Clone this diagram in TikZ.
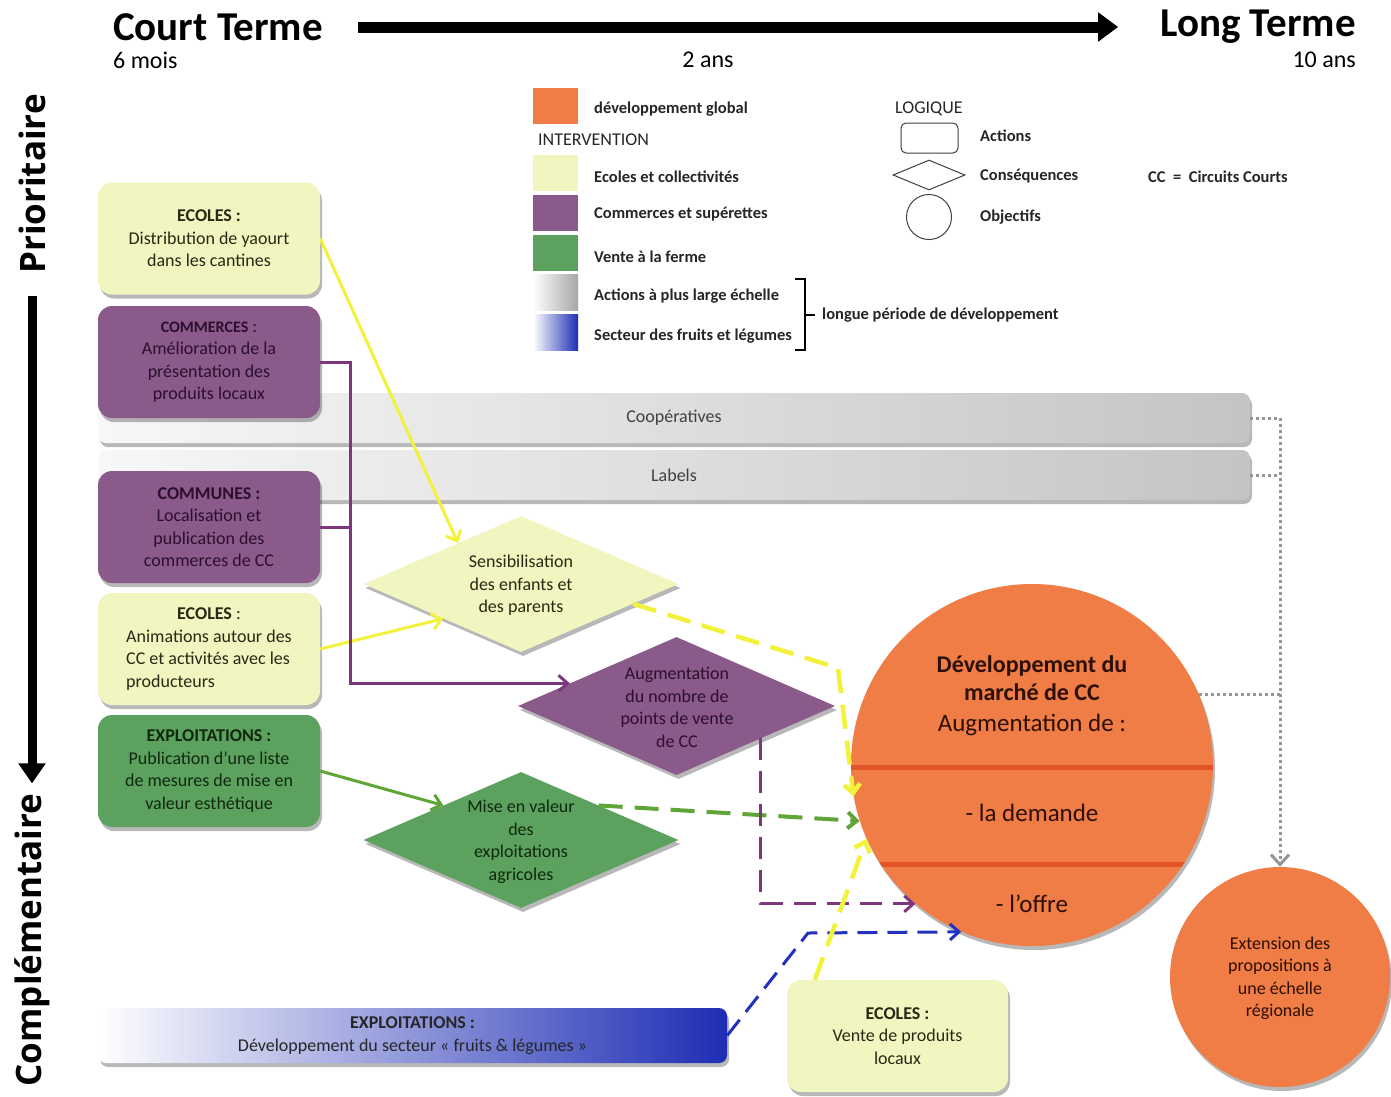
\documentclass[tikz,border=0pt]{standalone}
\usepackage{fontspec}
\setmainfont{Carlito}
\newfontfamily\sidefont{Open Sans}
\usetikzlibrary{arrows.meta,shapes.geometric,shadows,calc}
\definecolor{cyel}{RGB}{241,246,192}
\definecolor{cpur}{RGB}{138,90,138}
\definecolor{cgrn}{RGB}{92,162,94}
\definecolor{corg}{RGB}{239,125,69}
\definecolor{corgd}{RGB}{226,84,40}
\definecolor{cblue}{RGB}{30,45,180}
\definecolor{cgray}{RGB}{196,196,196}
\definecolor{ayel}{RGB}{242,242,60}
\definecolor{apur}{RGB}{125,55,125}
\definecolor{agrn}{RGB}{95,165,55}
\definecolor{ablue}{RGB}{35,50,190}
\definecolor{adot}{RGB}{150,150,150}
\definecolor{tyel}{RGB}{40,40,20}
\definecolor{tpur}{RGB}{45,15,45}
\definecolor{tgrn}{RGB}{15,40,15}
\definecolor{torg}{RGB}{45,15,5}
\tikzset{
  shad/.style={drop shadow={shadow xshift=2pt,shadow yshift=-4pt,opacity=0.28,fill=black}},
  actbox/.style={rounded corners=14pt, minimum width=222pt, minimum height=112pt, inner sep=0pt, align=center, font=\fontsize{18}{22.5}\selectfont, shad},
  ybox/.style={actbox, fill=cyel, text=tyel},
  pbox/.style={actbox, fill=cpur, text=tpur},
  gbox/.style={actbox, fill=cgrn, text=tgrn},
  bar/.style={rounded corners=8pt, minimum width=1152pt, minimum height=50pt, left color=black!3, right color=cgray, shad, font=\fontsize{18}{22.5}\selectfont, text=black!75},
  dia/.style={diamond, minimum width=315pt, minimum height=136pt, inner sep=0pt, shad},
  dtext/.style={align=center, inner sep=0pt, font=\fontsize{18}{22.5}\selectfont},
  swatch/.style={minimum width=45pt, minimum height=36pt, inner sep=0pt},
  legtxt/.style={anchor=west, inner sep=0pt, font=\fontsize{16.5}{19}\selectfont\bfseries, text=black!85},
  legtit/.style={anchor=west, inner sep=0pt, font=\fontsize{18}{21}\selectfont, text=black!85},
  yarrow/.style={draw=ayel, line width=3pt, -{Straight Barb[length=9pt,width=16pt]}},
  ydash/.style={yarrow, line width=4.5pt, dash pattern=on 24pt off 12pt},
  parrow/.style={draw=apur, line width=3pt, -{Straight Barb[length=9pt,width=16pt]}},
  pdash/.style={parrow, dash pattern=on 22pt off 11pt},
  garrow/.style={draw=agrn, line width=3pt, -{Straight Barb[length=9pt,width=16pt]}},
  gdash/.style={garrow, line width=4pt, dash pattern=on 24pt off 12pt},
  bdash/.style={draw=ablue, line width=3pt, dash pattern=on 20pt off 10pt, -{Straight Barb[length=9pt,width=16pt]}},
  gdot/.style={draw=adot, line width=3pt, dash pattern=on 3pt off 3pt}
}
\begin{document}
\begin{tikzpicture}[x=1pt,y=-1pt]
\useasboundingbox (0,0) rectangle (1391,1096);
\fill[white] (0,0) rectangle (1391,1096);

% ---- time axis
\node[anchor=west, inner sep=0pt, font=\fontsize{41}{41}\selectfont\bfseries] (court) at (113,27) {Court Terme};
\node[anchor=east, inner sep=0pt, font=\fontsize{41}{41}\selectfont\bfseries] (long) at (1356,27) {Long Terme};
\draw[line width=11pt, -{Triangle[length=20pt,width=28pt]}] ($(court.east)+(35,0)$) -- ($(long.west)+(-42,0)$);
\node[anchor=west, inner sep=0pt, font=\fontsize{24}{24}\selectfont] (m6) at (113,60) {6 mois};
\node[inner sep=0pt, font=\fontsize{24}{24}\selectfont] (a2) at (708,60) {2 ans};
\node[anchor=east, inner sep=0pt, font=\fontsize{24}{24}\selectfont] (a10) at (1356,60) {10 ans};

% ---- priority axis
\node[rotate=90, inner sep=0pt, font=\sidefont\bfseries\fontsize{35}{35}\selectfont] (prio) at (32,184) {Prioritaire};
\node[rotate=90, inner sep=0pt, font=\sidefont\bfseries\fontsize{35}{35}\selectfont] (compl) at (32,940) {Complémentaire};
\draw[line width=9pt, -{Triangle[length=20pt,width=26pt]}] ($(prio.west)+(0,22)$) -- ($(compl.east)+(0,-10)$);

% ---- legend
\node[swatch, fill=corg] (sw1) at (555.5,106) {};
\node[legtxt] (lt1) at (594,109) {développement global};
\node[legtit] (lint) at (538,140) {INTERVENTION};
\node[swatch, fill=cyel] (sw2) at (555.5,172.5) {};
\node[legtxt] (lt2) at (594,177) {Ecoles et collectivités};
\node[swatch, fill=cpur] (sw3) at (555.5,212.5) {};
\node[legtxt] (lt3) at (594,214) {Commerces et supérettes};
\node[swatch, fill=cgrn] (sw4) at (555.5,252.5) {};
\node[legtxt] (lt4) at (594,257) {Vente à la ferme};
\node[swatch, left color=white, right color=black!35] (sw5) at (555.5,292.5) {};
\node[legtxt] (lt5) at (594,296) {Actions à plus large échelle};
\node[swatch, left color=white, right color=cblue] (sw6) at (555.5,332.5) {};
\node[legtxt] (lt6) at (594,336) {Secteur des fruits et légumes};
\draw[line width=2.2pt] (795,279) -- (805,279) -- (805,350) -- (795,350);
\draw[line width=2.2pt] (805,315) -- (815,315);
\node[legtxt] (lt7) at (822,315) {longue période de développement};

\node[legtit] (llog) at (895,109) {LOGIQUE};
\node[draw=black!75, line width=1pt, rounded corners=5pt, minimum width=57pt, minimum height=30pt, inner sep=0pt] (lgact) at (929.5,138) {};
\node[legtxt] (lta) at (980,136) {Actions};
\node[draw=black!75, line width=1pt, diamond, minimum width=72pt, minimum height=30pt, inner sep=0pt] (lgcons) at (929,175) {};
\node[legtxt] (ltc) at (980,176) {Conséquences};
\node[draw=black!75, line width=1pt, circle, minimum size=45pt, inner sep=0pt] (lgobj) at (929,217) {};
\node[legtxt] (lto) at (980,217) {Objectifs};
\node[legtxt, font=\fontsize{16.5}{19}\selectfont\bfseries] (ltcc) at (1148,177) {CC~~=~~Circuits Courts};

% ---- wide bars
\node[bar] (coop) at (674,418) {Coopératives};
\node[bar] (labels) at (674,475) {Labels};
\node[rounded corners=8pt, minimum width=629pt, minimum height=55pt, left color=white, right color=cblue, shad, inner sep=0pt, align=center, font=\fontsize{18}{22.5}\selectfont, text=black!85] (blue) at (412.5,1035.5) {\textbf{EXPLOITATIONS :}\\Développement du secteur « fruits \& légumes »};

% ---- action boxes
\node[ybox] (ecoles1) at (209,238.5) {\textbf{ECOLES :}\\Distribution de yaourt\\dans les cantines};
\node[pbox] (commerces) at (209,362) {{\fontsize{16}{22.5}\selectfont\textbf{COMMERCES}} :\\Amélioration de la\\présentation des\\produits locaux};
\node[pbox] (communes) at (209,527) {\textbf{COMMUNES :}\\Localisation et\\publication des\\commerces de CC};
\node[ybox] (ecoles2) at (209,649) {\begin{tabular}{@{}l@{}}\multicolumn{1}{@{}c@{}}{\textbf{ECOLES} :}\\Animations autour des\\CC et activités avec les\\producteurs\end{tabular}};
\node[gbox] (exploit) at (209,771) {\textbf{EXPLOITATIONS :}\\Publication d’une liste\\de mesures de mise en\\valeur esthétique};
\node[ybox, minimum width=221pt] (ecoles3) at (897.5,1036) {\textbf{ECOLES :}\\Vente de produits\\locaux};

% ---- consequences
\node[dia, fill=cyel] (sens) at (521,584) {};
\node[dtext, text=tyel] (senst) at (521,585.5) {Sensibilisation\\des enfants et\\des parents};
\node[dia, fill=cpur, minimum width=317pt, minimum height=138pt] (augm) at (676.5,706) {};
\node[dtext, text=tpur] (augmt) at (677,707.5) {Augmentation\\du nombre de\\points de vente\\de CC};
\node[dia, fill=cgrn] (mise) at (521,840) {};
\node[dtext, text=tgrn] (miset) at (521,842) {Mise en valeur\\des\\exploitations\\agricoles};

% ---- objectives
\node[circle, fill=corg, minimum size=362pt, inner sep=0pt, shad] (dev) at (1032,765) {};
\begin{scope}
\clip (1032,765) circle (181);
\draw[corgd, line width=5pt] (840,767) -- (1230,767);
\draw[corgd, line width=5pt] (840,864) -- (1230,864);
\end{scope}
\node[dtext, text=torg, font=\fontsize{24}{28}\selectfont\bfseries] (devt) at (1032,678) {Développement du\\marché de CC};
\node[dtext, text=torg, font=\fontsize{25}{28}\selectfont] (devaug) at (1032,725) {Augmentation de :};
\node[dtext, text=torg, font=\fontsize{25}{28}\selectfont] (devdem) at (1032,813) {- la demande};
\node[dtext, text=torg, font=\fontsize{25}{28}\selectfont] (devoff) at (1032,904) {- l’offre};
\node[circle, fill=corg, minimum size=220pt, inner sep=0pt, shad] (ext) at (1280,977) {};
\node[dtext, text=torg] (extt) at (1280,978.5) {Extension des\\propositions à\\une échelle\\régionale};

% ---- solid connectors
\draw[yarrow] (ecoles1.east) -- (sens.147);
\draw[yarrow] (ecoles2.east) -- (sens.204);
\draw[parrow] (commerces.east) -- ++(30,0) |- (augm.168);
\draw[draw=apur, line width=3pt] (communes.east) -- ++(30,0);
\draw[garrow] (exploit.east) -- (mise.156);

% ---- dashed connectors
\coordinate (ycorner) at (838,668);
\coordinate (bcorner) at (808,933);
\draw[ydash] (sens.-10) -- (ycorner) -- (dev.190);
\draw[gdash] (mise.24) -- (dev.198);
\draw[pdash] (augm.-21) |- (dev.230);
\draw[bdash] (blue.east) -- (bcorner) -- (dev.247);
\draw[ydash] ($(ecoles3.north west)+(28,0)$) -- (dev.204);

% ---- dotted connectors
\draw[gdot, -{Straight Barb[length=10pt,width=18pt]}] (coop.east) -| (ext.north);
\draw[gdot] (labels.east) -- (labels.east -| ext.north);
\draw[gdot] (dev.23) -- (dev.23 -| ext.north);
\end{tikzpicture}
\end{document}
